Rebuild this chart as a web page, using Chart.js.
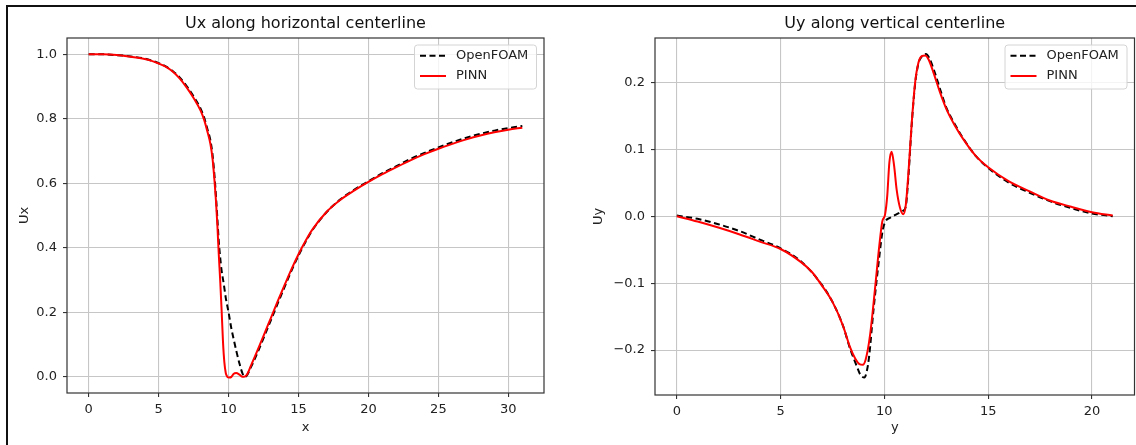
<!DOCTYPE html>
<html>
<head>
<meta charset="utf-8">
<script src="https://cdn.jsdelivr.net/npm/chart.js@4.4.1/dist/chart.umd.min.js"></script>
<style>
  html, body { margin: 0; padding: 0; background: #fff; overflow: hidden; }
  #page { position: relative; width: 1136px; height: 445px; overflow: hidden; }
  #frame { position: absolute; left: 6px; top: 5px; width: 1200px; height: 500px; border: 2px solid #111; box-sizing: border-box; }
  #uxChart { position: absolute; left: 0; top: 0; }
  #uyChart { position: absolute; left: 570px; top: 0; }
</style>
</head>
<body>
<div id="page">
  <div id="frame"></div>
  <canvas id="uxChart" width="570" height="445"></canvas>
  <canvas id="uyChart" width="566" height="445"></canvas>
</div>
<script>
// Ux along horizontal centerline
const uxOpenfoamX = [0, 1, 2, 3, 4, 4.5, 5, 5.5, 6, 6.5, 7, 7.5, 8, 8.25, 8.5, 8.7, 8.85, 9.0, 9.1, 9.2, 9.3, 9.4, 9.5, 9.65, 9.8, 10.0, 10.2, 10.4, 10.6, 10.8, 11.0, 11.15, 11.3, 11.6, 12, 12.5, 13, 13.5, 14, 14.5, 15, 15.5, 16, 17, 18, 19, 20, 21, 22, 23, 24, 25, 26, 27, 28, 29, 30, 31];
const uxOpenfoam = [1.0, 0.9995, 0.997, 0.993, 0.986, 0.98, 0.972, 0.962, 0.948, 0.928, 0.901, 0.869, 0.831, 0.804, 0.766, 0.733, 0.69, 0.62, 0.56, 0.49, 0.42, 0.37, 0.33, 0.29, 0.245, 0.2, 0.15, 0.11, 0.072, 0.038, 0.01, 0.0, 0.004, 0.03, 0.068, 0.12, 0.173, 0.226, 0.278, 0.329, 0.376, 0.418, 0.455, 0.51, 0.55, 0.58, 0.606, 0.631, 0.653, 0.675, 0.694, 0.711, 0.727, 0.741, 0.753, 0.763, 0.771, 0.777];
const uxPinnX = [0, 1, 2, 3, 4, 4.5, 5, 5.5, 6, 6.5, 7, 7.5, 8, 8.25, 8.5, 8.7, 8.85, 9.0, 9.1, 9.2, 9.3, 9.4, 9.5, 9.6, 9.7, 9.8, 9.9, 10.05, 10.2, 10.35, 10.55, 10.75, 10.95, 11.1, 11.3, 11.6, 12, 12.5, 13, 13.5, 14, 14.5, 15, 15.5, 16, 17, 18, 19, 20, 21, 22, 23, 24, 25, 26, 27, 28, 29, 30, 31];
const uxPinn = [1.0, 0.9995, 0.997, 0.992, 0.985, 0.979, 0.971, 0.961, 0.946, 0.925, 0.897, 0.864, 0.825, 0.797, 0.758, 0.722, 0.678, 0.605, 0.545, 0.47, 0.38, 0.30, 0.21, 0.11, 0.045, 0.012, 0.001, -0.002, 0.0, 0.009, 0.012, 0.008, 0.001, 0.0, 0.006, 0.035, 0.075, 0.127, 0.18, 0.233, 0.284, 0.334, 0.38, 0.421, 0.457, 0.511, 0.549, 0.578, 0.604, 0.628, 0.65, 0.671, 0.69, 0.707, 0.722, 0.736, 0.748, 0.758, 0.766, 0.772];

// Uy along vertical centerline
const uyOpenfoamY = [0, 1, 2, 3, 4, 5, 6, 7, 7.5, 8, 8.35, 8.67, 8.83, 9.04, 9.15, 9.26, 9.47, 9.71, 9.92, 10.05, 10.3, 10.6, 10.9, 11.03, 11.16, 11.32, 11.48, 11.64, 11.8, 12.0, 12.15, 12.4, 12.7, 13.0, 13.4, 13.8, 14.4, 15, 16, 17, 18, 19, 20, 21];
const uyOpenfoam = [0.001, -0.004, -0.012, -0.022, -0.035, -0.048, -0.068, -0.103, -0.128, -0.163, -0.198, -0.224, -0.236, -0.241, -0.232, -0.211, -0.142, -0.073, -0.021, -0.008, -0.002, 0.003, 0.008, 0.014, 0.06, 0.138, 0.197, 0.228, 0.238, 0.242, 0.237, 0.217, 0.188, 0.161, 0.137, 0.116, 0.09, 0.072, 0.05, 0.035, 0.022, 0.012, 0.004, 0.0];
const uyPinnY = [0, 1, 2, 3, 4, 5, 6, 6.5, 7, 7.5, 8, 8.35, 8.6, 8.8, 8.96, 9.1, 9.3, 9.55, 9.76, 9.9, 10.03, 10.14, 10.24, 10.35, 10.47, 10.59, 10.75, 10.91, 11.03, 11.16, 11.32, 11.48, 11.64, 11.8, 11.97, 12.13, 12.37, 12.69, 13.0, 13.4, 13.8, 14.4, 15, 16, 17, 18, 19, 20, 21];
const uyPinn = [0, -0.008, -0.017, -0.027, -0.038, -0.049, -0.069, -0.083, -0.104, -0.128, -0.163, -0.196, -0.213, -0.221, -0.222, -0.214, -0.18, -0.108, -0.043, -0.008, 0.002, 0.031, 0.08, 0.096, 0.075, 0.04, 0.013, 0.003, 0.016, 0.065, 0.14, 0.199, 0.229, 0.239, 0.24, 0.234, 0.214, 0.184, 0.159, 0.135, 0.115, 0.09, 0.073, 0.052, 0.037, 0.023, 0.014, 0.006, 0.001];

// tick labels
const uxXTicks = [0, 5, 10, 15, 20, 25, 30];
const uxYTicks = [0, 0.2, 0.4, 0.6, 0.8, 1.0];
const uyXTicks = [0, 5, 10, 15, 20];
const uyYTicks = [-0.2, -0.1, 0, 0.1, 0.2];

Chart.defaults.font.family = '"DejaVu Sans", sans-serif';
Chart.defaults.color = '#222';

function pairs(xs, ys) {
    return xs.map(function (x, i) { return {x: x, y: ys[i]}; });
}

function fmt(v) {
    return v < 0 ? '\u2212' + Math.abs(v).toFixed(1) : v.toFixed(1);
}

// axes frame + matplotlib style legend box
const frameLegend = {
    id: 'frameLegend',
    afterDatasetsDraw(chart) {
        const ctx = chart.ctx;
        const a = chart.chartArea;
        ctx.save();
        ctx.strokeStyle = '#333';
        ctx.lineWidth = 1.2;
        ctx.strokeRect(a.left, a.top, a.right - a.left, a.bottom - a.top);

        const w = 122, h = 44;
        const bx = a.right - 7.5 - w, by = a.top + 7;
        ctx.beginPath();
        ctx.roundRect(bx, by, w, h, 3);
        ctx.fillStyle = 'rgba(255,255,255,0.8)';
        ctx.fill();
        ctx.strokeStyle = '#d4d4d4';
        ctx.lineWidth = 1;
        ctx.stroke();

        ctx.font = '13px "DejaVu Sans"';
        ctx.textBaseline = 'middle';
        ctx.textAlign = 'left';
        chart.data.datasets.forEach(function (ds, i) {
            const y = by + 10.7 + i * 20.3;
            ctx.beginPath();
            ctx.setLineDash(ds.borderDash || []);
            ctx.strokeStyle = ds.borderColor;
            ctx.lineWidth = ds.borderWidth;
            ctx.moveTo(bx + 5.5, y);
            ctx.lineTo(bx + 31.5, y);
            ctx.stroke();
            ctx.setLineDash([]);
            ctx.fillStyle = '#222';
            ctx.fillText(ds.label, bx + 41.5, y);
        });
        ctx.restore();
    }
};

function makeChart(id, cfg) {
    const ctx = document.getElementById(id).getContext('2d');
    return new Chart(ctx, {
        type: 'line',
        data: {
            datasets: [
                {
                    label: 'OpenFOAM',
                    data: cfg.openfoam,
                    borderColor: '#000',
                    borderWidth: 2,
                    borderDash: [6, 3.5],
                    pointRadius: 0,
                    cubicInterpolationMode: 'monotone',
                    order: 1
                },
                {
                    label: 'PINN',
                    data: cfg.pinn,
                    borderColor: '#ff0000',
                    borderWidth: 2,
                    pointRadius: 0,
                    cubicInterpolationMode: 'monotone',
                    order: 0
                }
            ]
        },
        options: {
            responsive: false,
            animation: false,
            devicePixelRatio: 1,
            layout: { padding: { left: 0, right: cfg.padRight, top: 0, bottom: 0 } },
            plugins: {
                legend: { display: false },
                tooltip: { enabled: false },
                title: {
                    display: true,
                    text: cfg.title,
                    fullSize: false,
                    color: '#111',
                    font: { size: 16, weight: 'normal' },
                    padding: { top: 14.4, bottom: 4.4 }
                }
            },
            scales: {
                x: {
                    type: 'linear',
                    min: cfg.xMin,
                    max: cfg.xMax,
                    afterBuildTicks: function (s) { s.ticks = cfg.xTicks.map(function (v) { return {value: v}; }); },
                    afterFit: function (s) { s.height = cfg.xHeight; },
                    grid: { color: '#c6c6c6', lineWidth: 1.1, tickLength: 4, tickColor: '#333' },
                    border: { display: false },
                    ticks: { padding: 5, font: { size: 13 }, maxRotation: 0, callback: function (v) { return String(v); } },
                    title: { display: true, text: cfg.xLabel, font: { size: 13 }, padding: { top: 0, bottom: 9.5 } }
                },
                y: {
                    type: 'linear',
                    min: cfg.yMin,
                    max: cfg.yMax,
                    afterBuildTicks: function (s) { s.ticks = cfg.yTicks.map(function (v) { return {value: v}; }); },
                    afterFit: function (s) { s.width = cfg.yWidth; },
                    grid: { color: '#c6c6c6', lineWidth: 1.1, tickLength: 4, tickColor: '#333' },
                    border: { display: false },
                    ticks: { padding: 6, font: { size: 13 }, callback: function (v) { return fmt(v); } },
                    title: { display: true, text: cfg.yLabel, font: { size: 13 }, padding: { top: cfg.yTitlePad, bottom: 0 } }
                }
            }
        },
        plugins: [frameLegend]
    });
}

makeChart('uxChart', {
    title: 'Ux along horizontal centerline',
    openfoam: pairs(uxOpenfoamX, uxOpenfoam),
    pinn: pairs(uxPinnX, uxPinn),
    xMin: -1.55, xMax: 32.55, yMin: -0.05, yMax: 1.05,
    xTicks: uxXTicks, yTicks: uxYTicks,
    xLabel: 'x', yLabel: 'Ux',
    padRight: 26, yWidth: 67, xHeight: 52, yTitlePad: 17
});

makeChart('uyChart', {
    title: 'Uy along vertical centerline',
    openfoam: pairs(uyOpenfoamY, uyOpenfoam),
    pinn: pairs(uyPinnY, uyPinn),
    xMin: -1.05, xMax: 22.05, yMin: -0.267, yMax: 0.266,
    xTicks: uyXTicks, yTicks: uyYTicks,
    xLabel: 'y', yLabel: 'Uy',
    padRight: 1.5, yWidth: 85, xHeight: 50, yTitlePad: 21
});
</script>
</body>
</html>
